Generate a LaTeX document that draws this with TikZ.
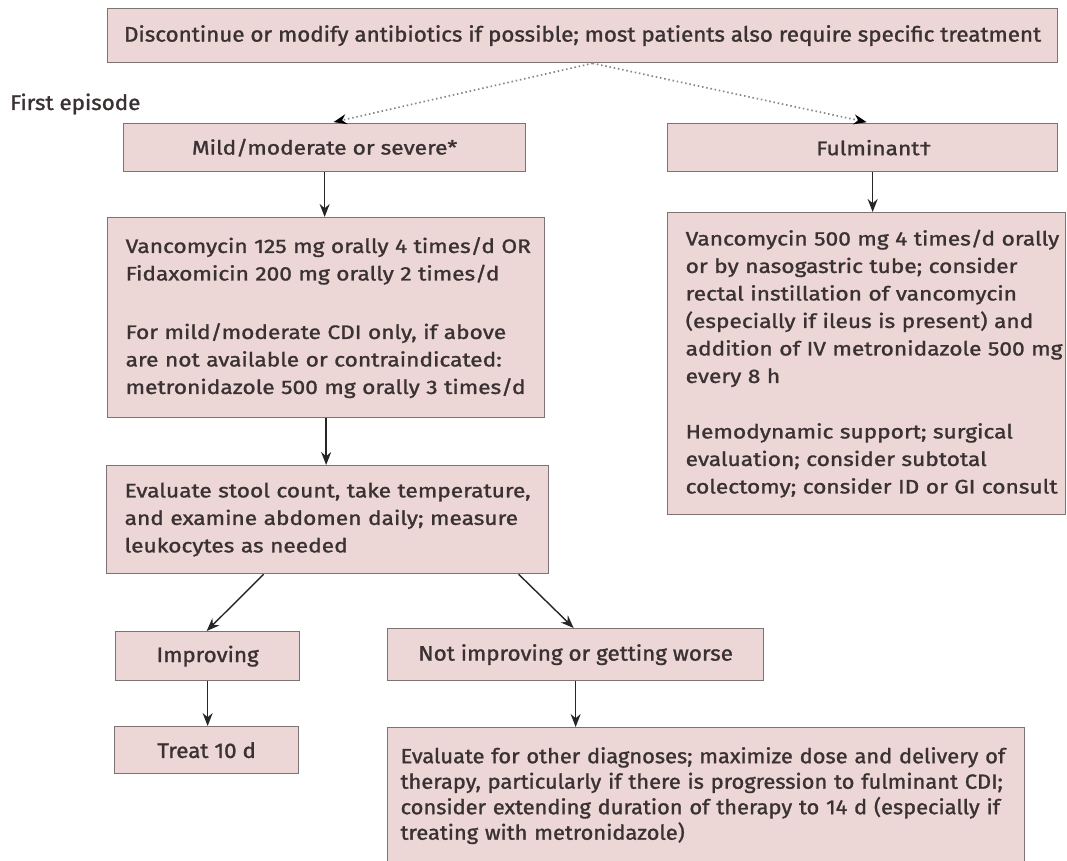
\documentclass[tikz,border=0pt]{standalone}
\usepackage{fontspec}
\setmainfont{Fira Sans}
\newfontfamily\widefont{Fira Sans}[FakeStretch=1.165, FakeBold=1.3]
\newfontfamily\condfont{Fira Sans}[FakeStretch=1.066, FakeBold=1.3]
\usetikzlibrary{arrows.meta}
\definecolor{boxfill}{RGB}{236,214,214}
\definecolor{boxline}{RGB}{125,115,115}
\definecolor{txt}{RGB}{58,50,50}
\definecolor{dotc}{RGB}{135,135,135}
\newcommand{\oneline}[1]{\makebox[0pt][l]{#1}}
\tikzset{
  box/.style={draw=boxline, fill=boxfill, line width=1.3pt, text=txt, anchor=north west,
    inner ysep=0pt, rectangle},
  wide/.style={font=\widefont\fontsize{19.5}{27.5}\selectfont},
  cond/.style={font=\condfont\fontsize{21}{25.5}\selectfont},
  condb/.style={font=\condfont\fontsize{20.5}{25.5}\selectfont},
  arr/.style={draw=black!85, line width=1.4pt, -{Stealth[length=13pt,width=10pt]}},
  dotarr/.style={draw=dotc, line width=1.7pt, dash pattern=on 1.5pt off 2.8pt,
    -{Stealth[length=13pt,width=10pt,black]}},
}
\begin{document}
\begin{tikzpicture}[x=1pt,y=-1pt]
\useasboundingbox[fill=white] (0,0) rectangle (1067,861);

\node[box,cond,minimum width=950pt,minimum height=54pt,inner xsep=0pt] (top) at (107,8)
  {Discontinue or modify antibiotics if possible; most patients also require specific treatment};
\node[cond,text=txt,anchor=west,inner sep=0pt] (first) at (10,104) {First episode};

\node[box,wide,minimum width=402pt,minimum height=48pt,inner xsep=0pt] (mild) at (123,123)
  {Mild/moderate or severe*};
\node[box,wide,minimum width=390pt,minimum height=48pt,inner xsep=0pt] (fulm) at (667,123)
  {\hspace*{22pt}Fulminant\textdagger};

\node[box,wide,text width=401pt,inner xsep=18pt,minimum height=200pt,align=left] (v1) at (107,217)
  {\oneline{Vancomycin 125 mg orally 4 times/d OR}\\
   \oneline{Fidaxomicin 200 mg orally 2 times/d}\\[31pt]
   \oneline{For mild/moderate CDI only, if above}\\
   \oneline{are not available or contraindicated:}\\
   \oneline{metronidazole 500 mg orally 3 times/d}};

\node[box,wide,text width=362pt,inner xsep=18pt,minimum height=302pt,align=left] (v2) at (667,212)
  {\oneline{Vancomycin 500 mg 4 times/d orally}\\
   \oneline{or by nasogastric tube; consider}\\
   \oneline{rectal instillation of vancomycin}\\
   \oneline{(especially if ileus is present) and}\\
   \oneline{addition of IV metronidazole 500 mg}\\
   \oneline{every 8 h}\\[28pt]
   \oneline{Hemodynamic support; surgical}\\
   \oneline{evaluation; consider subtotal}\\
   \oneline{colectomy; consider ID or GI consult}};

\node[box,wide,text width=406pt,inner xsep=18pt,minimum height=108pt,align=left] (eval) at (106,465)
  {\oneline{Evaluate stool count, take temperature,}\\
   \oneline{and examine abdomen daily; measure}\\
   \oneline{leukocytes as needed}};

\node[box,cond,minimum width=184pt,minimum height=49pt,inner xsep=0pt] (impr) at (115,631) {Improving};
\node[box,cond,minimum width=184pt,minimum height=47pt,inner xsep=0pt] (treat) at (114,726) {Treat 10 d};
\node[box,cond,minimum width=376pt,minimum height=52pt,inner xsep=0pt] (notimp) at (387,628)
  {Not improving or getting worse};
\node[box,condb,text width=611pt,inner xsep=13pt,minimum height=136pt,align=left] (bot) at (387,727)
  {\oneline{Evaluate for other diagnoses; maximize dose and delivery of}\\
   \oneline{therapy, particularly if there is progression to fulminant CDI;}\\
   \oneline{consider extending duration of therapy to 14 d (especially if}\\
   \oneline{treating with metronidazole)}};

% connectors
\draw[dotarr, shorten >=4pt] ([xshift=10pt]top.south) -- ([xshift=5pt]mild.north);
\draw[dotarr, shorten >=4pt] ([xshift=10pt]top.south) -- ([xshift=8pt]fulm.north);
\draw[arr] (mild.south) -- (mild.south |- v1.north);
\draw[arr] ([xshift=10pt]fulm.south) -- ([xshift=10pt]fulm.south |- v2.north);
\draw[arr] (v1.south) -- (v1.south |- eval.north);
\draw[arr] ([xshift=-64pt]eval.south) -- ([xshift=-1pt]impr.north);
\draw[arr] ([xshift=191pt]eval.south) -- ([xshift=-2pt]notimp.north);
\draw[arr] (impr.south) -- (impr.south |- treat.north);
\draw[arr] (notimp.south) -- (notimp.south |- bot.north);
\end{tikzpicture}
\end{document}
